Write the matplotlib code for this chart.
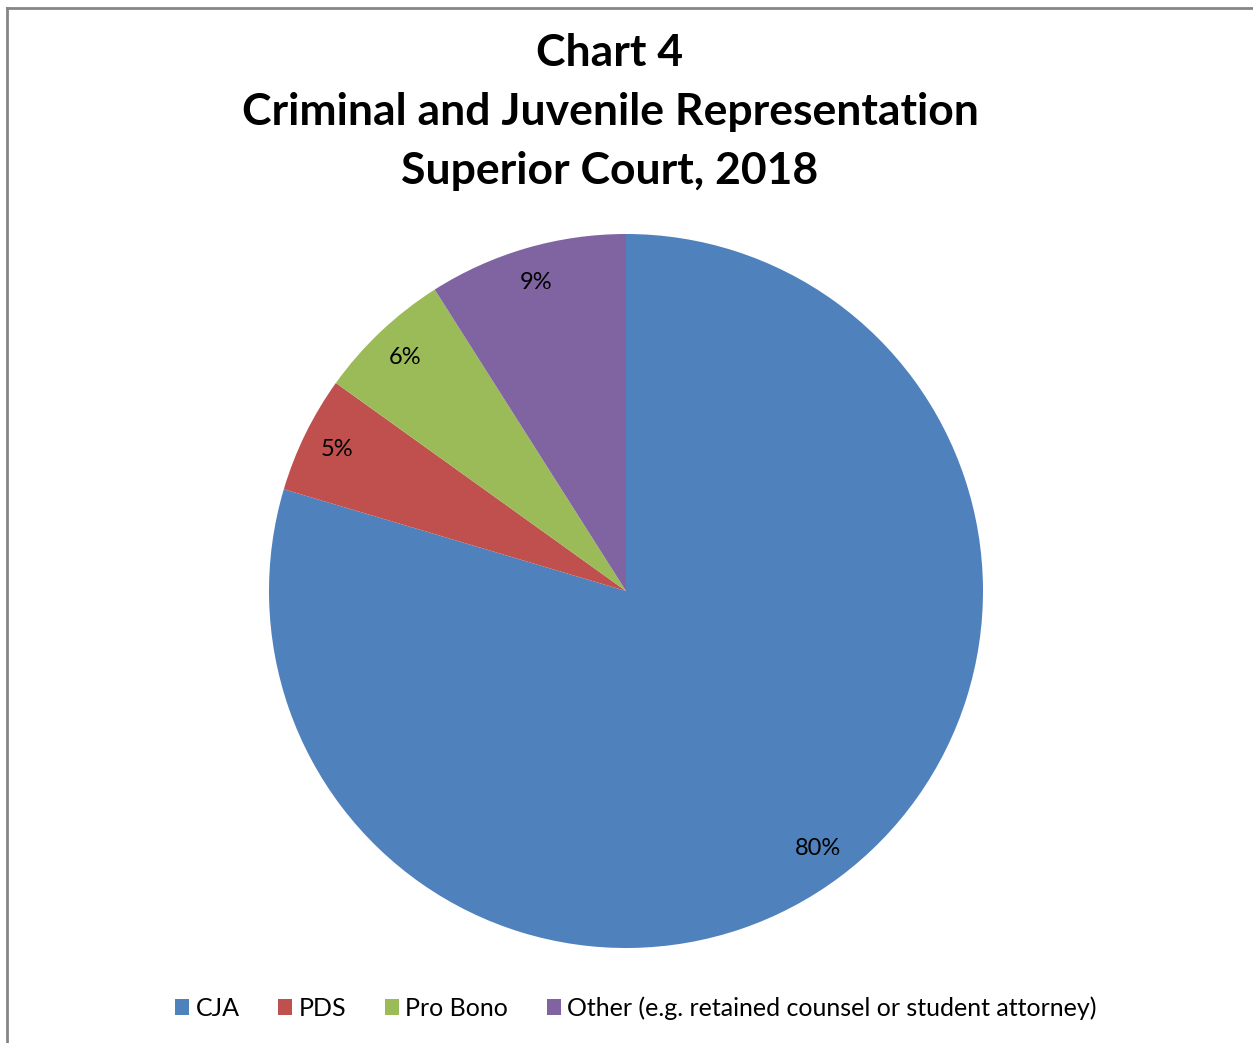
import matplotlib
matplotlib.use('Agg')
import numpy as np
import matplotlib.pyplot as plt
from matplotlib.patches import Patch
from matplotlib.lines import Line2D

# data
labels = ['CJA', 'PDS', 'Pro Bono', 'Other (e.g. retained counsel or student attorney)']
shares = [79.6, 5.3, 6.1, 9.0]
pct_text = ['80%', '5%', '6%', '9%']
colors = ['#4F81BD', '#C0504D', '#9BBB59', '#8064A2']

title_lines = ['Chart 4', 'Criminal and Juvenile Representation', 'Superior Court, 2018']

plt.rcParams['font.family'] = ['Lato', 'DejaVu Sans']

W, H = 1253, 1043
fig = plt.figure(figsize=(W / 100, H / 100), dpi=100)

# grey frame, only the top and left edges are inside the crop
fy = 1 - 8 / H
fx = 7 / W
fig.add_artist(Line2D([fx, 1.0], [fy, fy], transform=fig.transFigure,
                      color='#868686', linewidth=2))
fig.add_artist(Line2D([fx, fx], [0.0, fy], transform=fig.transFigure,
                      color='#868686', linewidth=2))

# pie centred at (626, 591) px with radius 357 px
cx, cy, r = 626, 591, 357
ax = fig.add_axes([(cx - r) / W, (H - cy - r) / H, 2 * r / W, 2 * r / H])
wedges, _ = ax.pie(shares, colors=colors, startangle=90, counterclock=False,
                   radius=1, wedgeprops=dict(linewidth=0))
ax.set_xlim(-1, 1)
ax.set_ylim(-1, 1)
ax.set_aspect('equal')
ax.axis('off')

# percentage labels at 0.9 of the radius
cum = np.cumsum([0] + shares)
total = cum[-1]
for i, txt in enumerate(pct_text):
    mid = (cum[i] + cum[i + 1]) / 2 / total
    ang = np.deg2rad(90 - 360 * mid)
    ax.text(0.9 * np.cos(ang), 0.9 * np.sin(ang), txt, ha='center', va='center',
            fontsize=17, color='black')

# title
for i, line in enumerate(title_lines):
    fig.text(610 / W, 1 - (53 + 59 * i) / H, line, ha='center', va='center',
             fontsize=32, fontweight='bold', color='black')

handles = [Patch(facecolor=c, edgecolor='none') for c in colors]
fig.legend(handles, labels, loc='center', bbox_to_anchor=(636 / W, 1 - 1008 / H),
           ncol=4, frameon=False, fontsize=18, handlelength=0.56, handleheight=0.56,
           handletextpad=0.25, columnspacing=1.55)

fig.savefig('out.png', dpi=100, facecolor='white')
